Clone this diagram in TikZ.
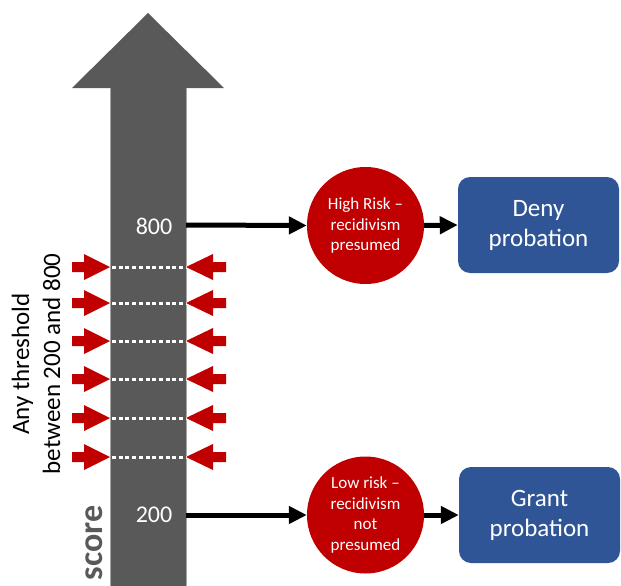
\documentclass[tikz,border=0pt]{standalone}
\usepackage{fontspec}
\setmainfont{Carlito}
\usetikzlibrary{arrows.meta}
\definecolor{arrgray}{HTML}{595959}
\definecolor{edgegray}{HTML}{A6A6A6}
\definecolor{riskred}{HTML}{C00000}
\definecolor{boxblue}{HTML}{2F5597}
\tikzset{
  riskcircle/.style={circle, fill=riskred, minimum size=117pt, inner sep=0pt, text=white, align=center, font=\fontsize{17}{20.5}\selectfont},
  outcome/.style={rounded corners=12pt, fill=boxblue, minimum width=161pt, minimum height=96pt, inner sep=0pt, text=white, align=center, font=\fontsize{25}{30}\selectfont},
  conn/.style={line width=5pt, -{Triangle[length=18pt,width=17pt]}},
  redarrow/.style={fill=riskred},
  threshold/.style={white, line width=3pt, dash pattern=on 4pt off 2.7pt},
  scorelbl/.style={text=white, font=\fontsize{24}{28}\selectfont}
}
\begin{document}
\begin{tikzpicture}[x=1pt,y=-1pt]
\useasboundingbox (0,0) rectangle (621,586);
% big gray arrow
\fill[arrgray] (110,586) -- (110,88) -- (72,88) -- (148,13) -- (224,88) -- (186,88) -- (186,586) -- cycle;
\draw[edgegray, line width=0.6pt] (110,586) -- (110,88) (186,88) -- (186,586);
% threshold markers
\foreach \c in {267,303,341,379,418,457}{
  \draw[threshold] (112,\c) -- (186,\c);
  \fill[riskred] (72,\c-5) -- (84,\c-5) -- (84,\c-13) -- (110,\c) -- (84,\c+13) -- (84,\c+5) -- (72,\c+5) -- cycle;
  \fill[riskred] (226,\c-5) -- (213,\c-5) -- (213,\c-13) -- (186,\c) -- (213,\c+13) -- (213,\c+5) -- (226,\c+5) -- cycle;
}
% labels on the arrow
\node[scorelbl] (l800) at (154,226) {800};
\node[scorelbl] (l200) at (154,515) {200};
\coordinate (s800) at (186,225);
\coordinate (s200) at (186,515);
% rotated labels
\node[rotate=90, align=center, font=\fontsize{25}{31}\selectfont, inner sep=0pt] (anyth) at (36,364) {Any threshold\\between 200 and 800};
\node[rotate=90, text=arrgray, font=\fontsize{34}{40}\bfseries, inner sep=0pt] (score) at (94,543) {score};
% circles
\node[riskcircle] (hr) at (365.5,225.5) {High Risk –\\recidivism\\presumed};
\node[riskcircle] (lr) at (365.5,515) {Low risk –\\recidivism\\not\\presumed};
% boxes
\node[outcome] (deny) at (538.5,225) {Deny\\probation};
\node[outcome] (grant) at (539.5,515) {Grant\\probation};
% connectors
\draw[conn] (s800) -- (hr.west);
\draw[conn] (s200) -- (lr.west);
\draw[conn] (hr.east) -- (deny.west);
\draw[conn] (lr.east) -- (grant.west);
\end{tikzpicture}
\end{document}
